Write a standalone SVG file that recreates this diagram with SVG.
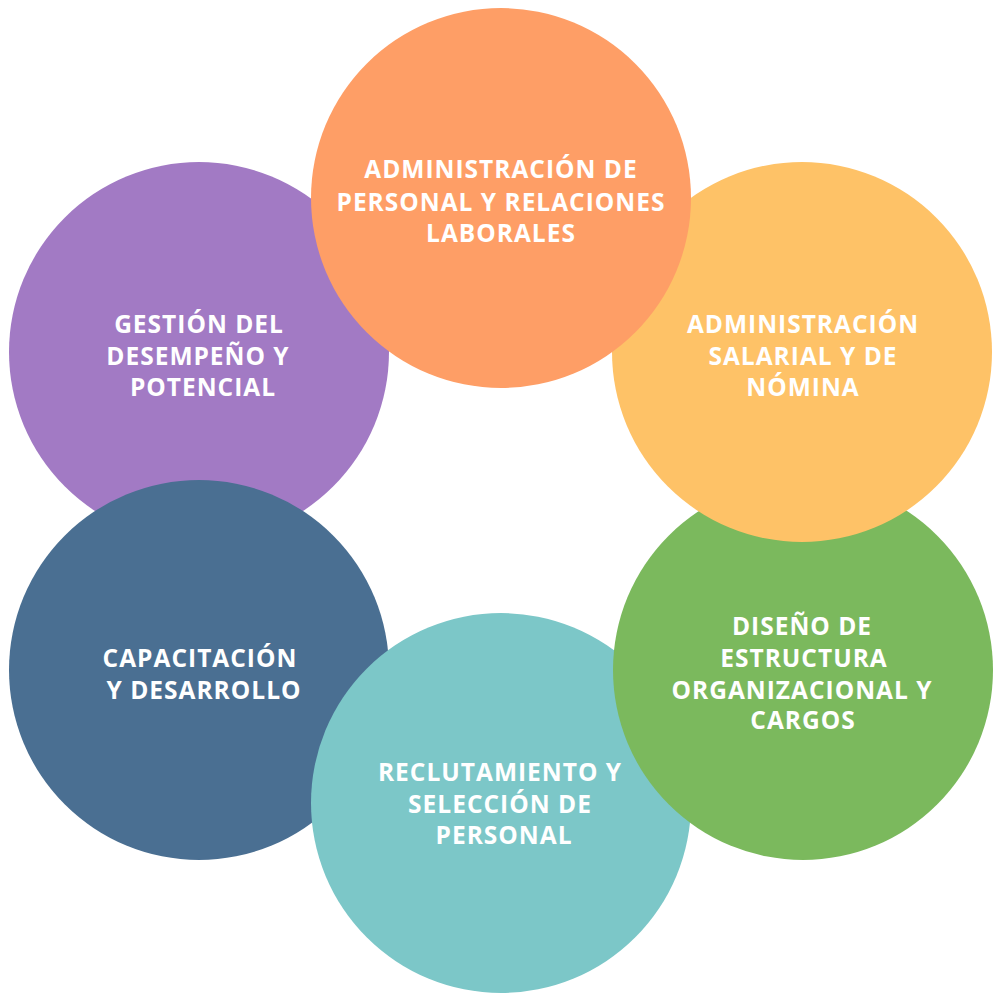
<svg xmlns="http://www.w3.org/2000/svg" width="1000" height="1000" viewBox="0 0 1000 1000">
<style>
text{font-family:"Open Sans","Liberation Sans",sans-serif;font-weight:700;font-size:24.5px;fill:#ffffff;text-anchor:middle;letter-spacing:1px}
</style>
<rect width="1000" height="1000" fill="#ffffff"/>
<g id="node-desempeno">
<circle cx="199" cy="352" r="190" fill="#A27AC4"/>
<text x="199" y="333">GESTIÓN DEL</text>
<text x="198" y="365">DESEMPEÑO Y</text>
<text x="203" y="396">POTENCIAL</text>
</g>
<g id="node-capacitacion">
<circle cx="199" cy="670" r="190" fill="#4A6F92"/>
<text x="200" y="667">CAPACITACIÓN</text>
<text x="204" y="699">Y DESARROLLO</text>
</g>
<g id="node-reclutamiento">
<circle cx="501" cy="803" r="190" fill="#7CC7C8"/>
<text x="500" y="781">RECLUTAMIENTO Y</text>
<text x="500" y="813">SELECCIÓN DE</text>
<text x="504" y="844">PERSONAL</text>
</g>
<g id="node-estructura">
<circle cx="803" cy="670" r="190" fill="#7BB95D"/>
<text x="802" y="635">DISEÑO DE</text>
<text x="804" y="667">ESTRUCTURA</text>
<text x="802" y="699">ORGANIZACIONAL Y</text>
<text x="803" y="729">CARGOS</text>
</g>
<g id="node-salarial">
<circle cx="802" cy="352" r="190" fill="#FEC267"/>
<text x="803" y="333">ADMINISTRACIÓN</text>
<text x="803" y="365">SALARIAL Y DE</text>
<text x="803" y="396">NÓMINA</text>
</g>
<g id="node-personal">
<circle cx="501" cy="198" r="190" fill="#FE9E66"/>
<text x="501" y="178">ADMINISTRACIÓN DE</text>
<text x="501" y="211">PERSONAL Y RELACIONES</text>
<text x="501" y="242">LABORALES</text>
</g>
<g id="connectors"></g>
</svg>
